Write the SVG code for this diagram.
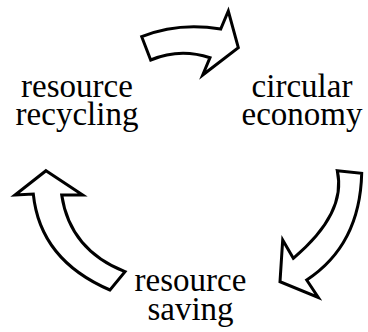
<svg xmlns="http://www.w3.org/2000/svg" width="368" height="332" viewBox="0 0 368 332">
<style>
.arrow{fill:#fff;stroke:#000;stroke-width:3;stroke-linejoin:miter;stroke-miterlimit:10}
.lbl{font-family:"Liberation Serif","Times New Roman",serif;font-size:33px;fill:#000;text-anchor:middle}
</style>
<rect width="368" height="332" fill="#fff"/>
<g id="connectors">
<path id="arrow-top" class="arrow" d="M141.7,36.7 Q178,22 220.7,29 L228.3,11 L238.3,47.7 L202.7,75 L210,57.7 Q179.6,47.8 150.7,60 Z"/>
<path id="arrow-right" class="arrow" d="M337.3,170.7 L361.7,173.3 Q360,245 306.7,280 L318.3,297.5 L280,281.7 L282.7,240 L293.3,258.3 Q346.8,213.4 337.3,170.7 Z"/>
<path id="arrow-left" class="arrow" d="M46,170.7 L82.7,195 L61.7,195 Q70,250 125,271.7 L110,290 Q40,260 33.3,194 L15,195 Z"/>
</g>
<g id="node-recycling">
<text class="lbl" x="77" y="97">resource</text>
<text class="lbl" x="77" y="125">recycling</text>
</g>
<g id="node-circular">
<text class="lbl" x="302" y="97">circular</text>
<text class="lbl" x="302" y="125">economy</text>
</g>
<g id="node-saving">
<text class="lbl" x="190.5" y="291">resource</text>
<text class="lbl" x="190.5" y="320">saving</text>
</g>
</svg>
